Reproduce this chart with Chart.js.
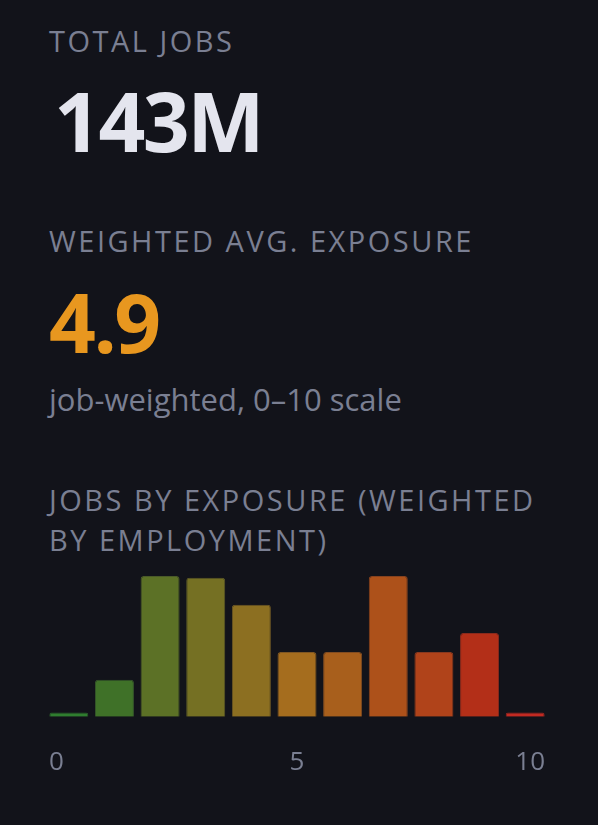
<!DOCTYPE html>
<html>
<head>
<meta charset="utf-8">
<script src="https://cdn.jsdelivr.net/npm/chart.js@4.4.1/dist/chart.umd.min.js"></script>
<style>
  html, body { margin: 0; padding: 0; background: #12131a; }
  body { width: 598px; height: 825px; position: relative; overflow: hidden; font-family: "Open Sans", "Noto Sans", sans-serif; }
  .lbl { position: absolute; left: 49px; color: #7a7f92; font-size: 29px; letter-spacing: 2.5px; text-transform: uppercase; white-space: nowrap; line-height: 40px; }
  .big { position: absolute; left: 54px; font-weight: 700; font-size: 82px; line-height: 1; letter-spacing: -2.5px; }
  .sub { position: absolute; left: 49px; color: #7a7f92; font-size: 31px; line-height: 1; }
  #wrap { position: absolute; left: 46px; top: 576px; width: 502px; height: 232px; }
</style>
</head>
<body>
<div class="lbl" style="top:21px">Total Jobs</div>
<div class="big" style="top:79px;color:#e4e5ee">143M</div>
<div class="lbl" style="top:221px">Weighted Avg. Exposure</div>
<div class="big" style="top:280px;left:49px;color:#e8971f">4.9</div>
<div class="sub" style="top:384px">job-weighted, 0–10 scale</div>
<div class="lbl" style="top:480px">Jobs by Exposure (Weighted</div>
<div class="lbl" style="top:520px">by Employment)</div>
<div id="wrap"><canvas id="c"></canvas></div>
<script>
const categories = ["0","1","2","3","4","5","6","7","8","9","10"];
const jobsMillions = [0.7, 6.2, 23.5, 23.2, 18.7, 10.8, 10.8, 23.5, 10.8, 14.0, 0.7];
const barColors = ["#2f7d2f","#3f7128","#5c7126","#757023","#8c6f21","#a56d1e","#a85f1c","#ad511a","#b0431a","#b32f18","#c22a22"];
const borderColors = ["#2a5a2a","#35552a","#4a5a28","#5d5a26","#6e5824","#7f5622","#824c20","#86421e","#88381e","#8a2a1c","#922620"];
const axisTicks = [0, 5, 10];

new Chart(document.getElementById('c'), {
  type: 'bar',
  data: {
    labels: categories,
    datasets: [{
      data: jobsMillions,
      backgroundColor: barColors,
      borderColor: borderColors,
      borderWidth: 1,
      borderSkipped: 'bottom',
      borderRadius: { topLeft: 3, topRight: 3, bottomLeft: 0, bottomRight: 0 },
      barPercentage: 1,
      categoryPercentage: 0.855
    }]
  },
  options: {
    responsive: true,
    maintainAspectRatio: false,
    animation: false,
    layout: { padding: 0 },
    plugins: { legend: { display: false }, tooltip: { enabled: false } },
    scales: {
      x: { display: false, offset: true },
      y: { display: false, min: 0, max: Math.max(...jobsMillions) },
      x2: {
        type: 'linear', position: 'bottom', min: -0.06, max: 10.06, offset: false,
        grid: { display: false, drawTicks: false, offset: false }, border: { display: false },
        afterBuildTicks: (s) => { s.ticks = axisTicks.map(v => ({ value: v })); },
        afterFit: (s) => { s.paddingLeft = 0; s.paddingRight = 0; },
        ticks: { align: 'inner', color: '#7a7f92', padding: 30, font: { family: '"Open Sans", sans-serif', size: 26 }, maxRotation: 0 }
      }
    }
  }
});
</script>
</body>
</html>
